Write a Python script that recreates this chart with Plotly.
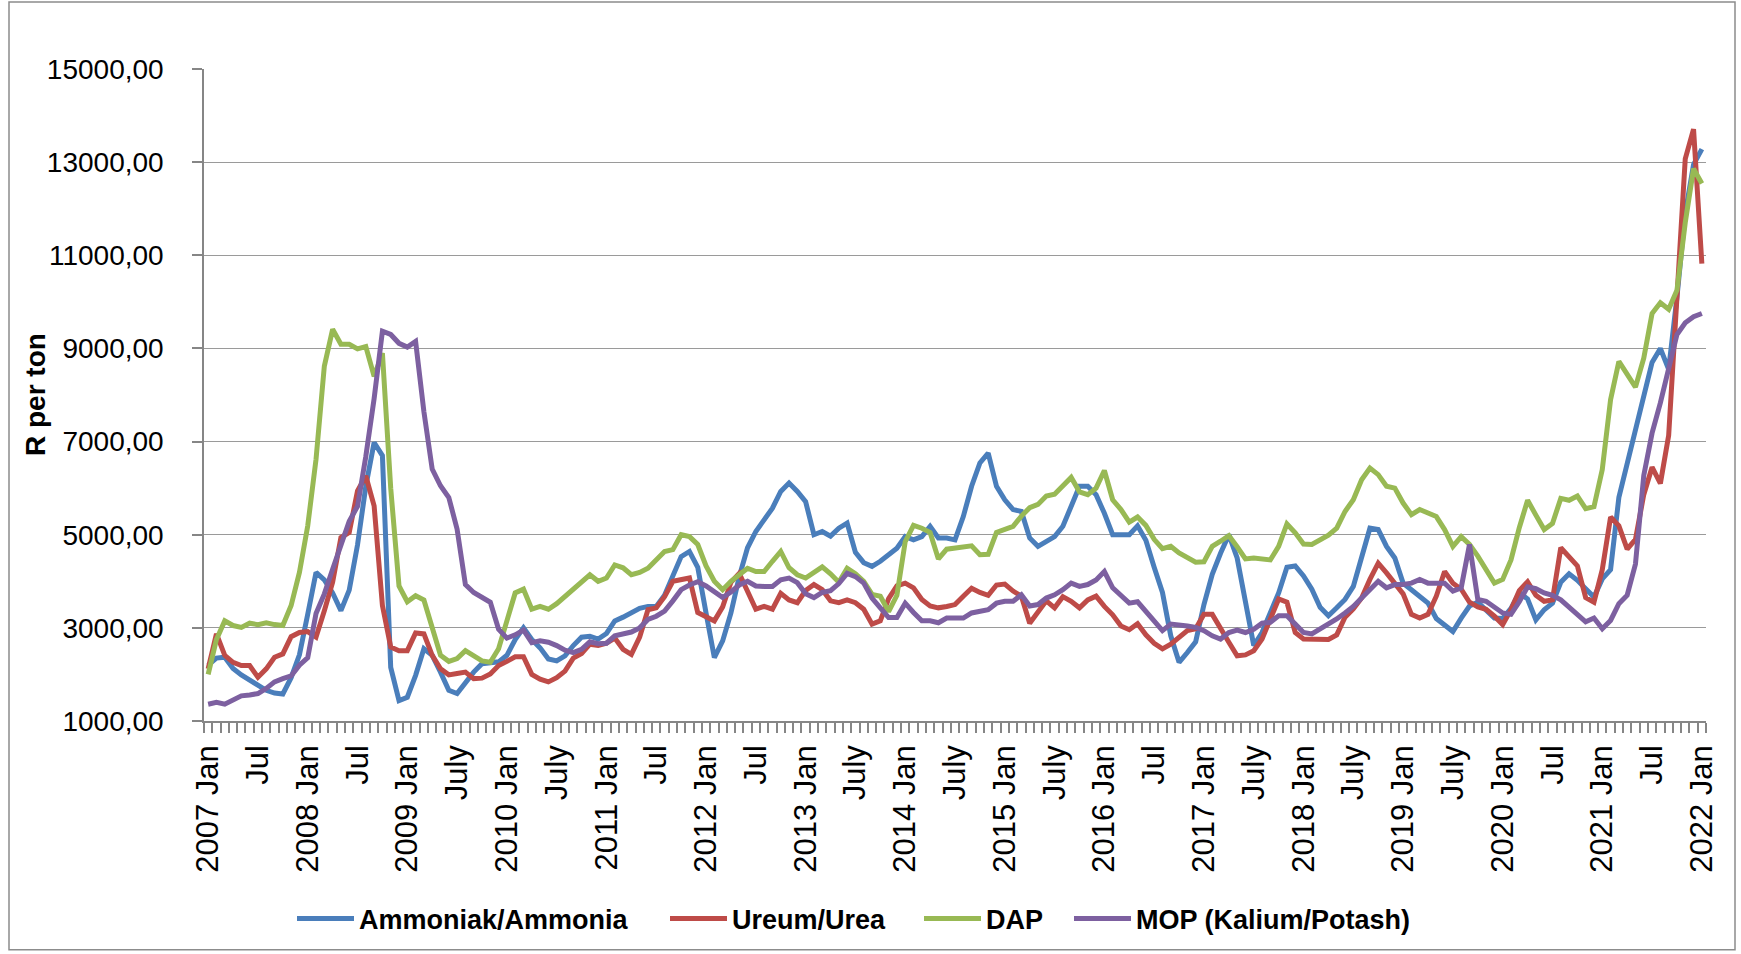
import plotly.graph_objects as go

# ---------------- data (monthly, 2007 Jan .. 2022 Jan) ----------------
ammonia = [2200, 2350, 2370, 2130, 1990, 1890, 1760, 1660, 1600, 1580, 1930, 2420, 3290, 4190, 4030, 3750,
           3370, 3810, 4780, 6040, 6980, 6700, 2150, 1440, 1510, 1980, 2550, 2410, 2050, 1660, 1590, 1840,
           2050, 2230, 2260, 2270, 2410, 2750, 3000, 2750, 2570, 2330, 2290, 2400, 2620, 2800, 2820, 2760,
           2880, 3150, 3230, 3320, 3420, 3460, 3460, 3700, 4140, 4530, 4640, 4300, 3320, 2360, 2720, 3320,
           4100, 4720, 5070, 5320, 5570, 5930, 6110, 5930, 5710, 5000, 5070, 4970, 5140, 5250, 4620, 4400,
           4320, 4430, 4570, 4710, 4960, 4890, 4960, 5180, 4930, 4930, 4890, 5390, 6040, 6540, 6750, 6040,
           5750, 5540, 5500, 4930, 4750, 4860, 4960, 5180, 5610, 6040, 6040, 5860, 5460, 5000, 5000, 5000,
           5190, 4880, 4300, 3760, 2830, 2260, 2470, 2700, 3500, 4150, 4600, 5000, 4500, 3500, 2620, 2900,
           3300, 3750, 4300, 4330, 4115, 3830, 3440, 3260, 3430, 3610, 3890, 4540, 5140, 5110, 4750, 4500,
           3960, 3820, 3680, 3530, 3200, 3050, 2920, 3210, 3470, 3550, 3390, 3210, 3200, 3420, 3760, 3620,
           3170, 3390, 3530, 3980, 4160, 4020, 3840, 3660, 4050, 4250, 5800, 6500, 7200, 8000, 8700, 9000,
           8550, 10100, 11900, 12950, 13280]

urea = [2120, 2870, 2410, 2260, 2190, 2190, 1940, 2120, 2370, 2440, 2810, 2900, 2920, 2800, 3370, 3980,
        4940, 5050, 5940, 6260, 5620, 3480, 2590, 2510, 2510, 2890, 2870, 2410, 2120, 1990, 2020, 2050,
        1910, 1920, 2010, 2190, 2280, 2380, 2380, 2000, 1900, 1840, 1930, 2070, 2350, 2450, 2650, 2620,
        2670, 2780, 2540, 2430, 2800, 3390, 3430, 3670, 4000, 4030, 4070, 3330, 3250, 3150, 3450, 3980,
        4170, 3760, 3400, 3460, 3400, 3740, 3600, 3540, 3800, 3930, 3820, 3580, 3540, 3600, 3540, 3400,
        3080, 3150, 3630, 3900, 3960, 3860, 3610, 3470, 3430, 3460, 3500, 3680, 3850, 3760, 3700, 3920,
        3940, 3790, 3680, 3100, 3360, 3580, 3430, 3670, 3570, 3430, 3600, 3680, 3460, 3280, 3040, 2960,
        3090, 2850, 2670, 2550, 2650, 2800, 2940, 2980, 3290, 3290, 3010, 2690, 2400, 2420, 2510, 2760,
        3190, 3620, 3550, 2900, 2760, 2760, 2760, 2750, 2850, 3230, 3410, 3640, 4040, 4390, 4180, 3960,
        3730, 3290, 3210, 3290, 3680, 4210, 3960, 3830, 3550, 3450, 3400, 3250, 3070, 3390, 3800, 3990,
        3700, 3570, 3600, 4720, 4520, 4330, 3650, 3550, 4250, 5380, 5190, 4690, 4900, 5860, 6450, 6100,
        7130, 10150, 13070, 13710, 10820]

dap = [2000, 2750, 3150, 3050, 3010, 3100, 3070, 3110, 3070, 3050, 3480, 4190, 5190, 6620, 8620, 9410,
       9090, 9090, 8990, 9040, 8400, 8900, 6000, 3900, 3560, 3690, 3600, 2980, 2410, 2280, 2340, 2510,
       2390, 2290, 2260, 2550, 3150, 3750, 3830, 3400, 3460, 3400, 3520, 3670, 3850, 4000, 4140, 4000,
       4070, 4350, 4290, 4140, 4190, 4280, 4450, 4640, 4680, 5000, 4960, 4790, 4330, 4000, 3820, 4000,
       4140, 4280, 4210, 4210, 4430, 4640, 4290, 4140, 4070, 4180, 4310, 4160, 3980, 4280, 4160, 4000,
       3720, 3680, 3350, 3700, 4850, 5200, 5140, 5050, 4480, 4690, 4710, 4730, 4760, 4570, 4580, 5050,
       5120, 5180, 5400, 5580, 5650, 5830, 5870, 6050, 6230, 5920, 5860, 6000, 6380, 5750, 5540, 5270,
       5380, 5200, 4900, 4700, 4750, 4610, 4500, 4410, 4420, 4750, 4860, 4980, 4740, 4480, 4500, 4470,
       4460, 4750, 5230, 5040, 4800, 4790, 4880, 4990, 5140, 5500, 5750, 6180, 6430, 6290, 6040, 6000,
       5680, 5430, 5540, 5460, 5390, 5110, 4750, 4960, 4790, 4540, 4250, 3960, 4040, 4460, 5150, 5740,
       5420, 5110, 5240, 5780, 5740, 5830, 5560, 5600, 6400, 7900, 8720, 8420, 8170, 8790, 9750, 9980,
       9840, 10250, 11700, 12860, 12540]

mop = [1360, 1400, 1360, 1460, 1540, 1560, 1590, 1700, 1840, 1910, 1970, 2200, 2360, 3310, 3730, 4260,
       4800, 5290, 5610, 6680, 7920, 9370, 9300, 9110, 9030, 9150, 7640, 6410, 6050, 5800, 5120, 3930,
       3760, 3640, 3550, 2970, 2780, 2850, 2950, 2680, 2720, 2690, 2620, 2520, 2470, 2540, 2700, 2660,
       2670, 2830, 2860, 2910, 3000, 3180, 3250, 3360, 3580, 3820, 3920, 3990, 3900, 3760, 3650, 3770,
       3920, 4000, 3900, 3890, 3890, 4030, 4070, 3970, 3730, 3650, 3760, 3800, 3950, 4170, 4100, 3960,
       3640, 3430, 3220, 3220, 3530, 3330, 3150, 3150, 3110, 3210, 3210, 3210, 3320, 3360, 3390, 3530,
       3570, 3570, 3710, 3470, 3500, 3640, 3710, 3820, 3960, 3890, 3930, 4030, 4210, 3860, 3710, 3530,
       3560, 3350, 3120, 2940, 3080, 3070, 3040, 3010, 2940, 2830, 2760, 2900, 2950, 2900, 2970, 3100,
       3120, 3260, 3260, 3080, 2900, 2870, 2970, 3080, 3190, 3320, 3460, 3640, 3820, 4000, 3860, 3930,
       3930, 3960, 4040, 3960, 3960, 3960, 3790, 3860, 4790, 3610, 3570, 3430, 3320, 3290, 3560, 3880,
       3840, 3750, 3700, 3600, 3450, 3300, 3130, 3210, 2980, 3160, 3520, 3700, 4370, 6270, 7180, 7830,
       8560, 9300, 9550, 9680, 9750]

series_names = ["Ammoniak/Ammonia", "Ureum/Urea", "DAP", "MOP (Kalium/Potash)"]
series_colors = ["#4A7EBB", "#BE4B48", "#98B954", "#7D60A0"]

tick_labels = ["2007 Jan", "Jul", "2008 Jan", "Jul", "2009 Jan", "July", "2010 Jan", "July",
               "2011 Jan", "Jul", "2012 Jan", "Jul", "2013 Jan", "July", "2014 Jan", "July",
               "2015 Jan", "July", "2016 Jan", "Jul", "2017 Jan", "July", "2018 Jan", "July",
               "2019 Jan", "July", "2020 Jan", "Jul", "2021 Jan", "Jul", "2022 Jan"]
label_step = 6
y_ticks = [1000, 3000, 5000, 7000, 9000, 11000, 13000, 15000]
y_title = "R per ton"

# ---------------- figure ----------------
n = len(ammonia)
months = list(range(n))
W, H = 1741, 954
L, R, T, B = 204, 35, 69, 232
pw, ph = W - L - R, H - T - B
FONT = "Liberation Sans, Arial, sans-serif"
GRAY = "#868686"

fig = go.Figure()
legend_px = [300, 673, 927, 1077]
for k, (name, vals, col) in enumerate(zip(series_names, [ammonia, urea, dap, mop], series_colors)):
    lg = "legend" if k == 0 else f"legend{k+1}"
    fig.add_trace(go.Scatter(x=months, y=vals, mode="lines", name=name,
                             line=dict(color=col, width=5), legend=lg,
                             hoverinfo="x+y+name"))

legend_common = dict(orientation="h", yanchor="middle", xanchor="left", y=(T + ph - 919) / ph,
                     bgcolor="rgba(0,0,0,0)", borderwidth=0, itemwidth=57,
                     font=dict(family=FONT, size=27, color="#000", weight="bold"))
layout_legends = {}
for k, px in enumerate(legend_px):
    key = "legend" if k == 0 else f"legend{k+1}"
    layout_legends[key] = dict(legend_common, x=(px - L - 8) / pw)

fig.update_layout(
    width=W, height=H, autosize=False,
    margin=dict(l=L, r=R, t=T, b=B),
    paper_bgcolor="white", plot_bgcolor="white",
    font=dict(family=FONT, color="#000"),
    showlegend=True,
    **layout_legends,
    xaxis=dict(
        range=[-0.5, n - 0.5], showgrid=False, zeroline=False,
        showline=True, linecolor=GRAY, linewidth=1.5,
        tickmode="array", tickvals=months[::label_step], ticktext=tick_labels,
        ticks="", tickangle=-90, tickfont=dict(family=FONT, size=31, color="#000"),
        ticklabelstandoff=10,
        minor=dict(tickmode="array", tickvals=[m - 0.5 for m in months] + [n - 0.5],
                   ticks="outside", ticklen=10, tickcolor=GRAY, tickwidth=1.5, showgrid=False),
    ),
    yaxis=dict(
        range=[y_ticks[0], y_ticks[-1]], zeroline=False,
        showline=True, linecolor=GRAY, linewidth=1.5,
        showgrid=True, gridcolor="#9a9a9a", gridwidth=1,
        tickmode="array", tickvals=y_ticks,
        ticktext=[f"{v:.2f}".replace(".", ",") for v in y_ticks],
        ticks="outside", ticklen=10, tickcolor=GRAY, tickwidth=1.5,
        tickfont=dict(family=FONT, size=28, color="#000"),
        ticklabelstandoff=23,
        automargin=False,
    ),
    annotations=[dict(text=y_title, xref="paper", yref="paper", x=(35 - L) / pw, y=0.5,
                      xanchor="center", yanchor="middle", textangle=-90, showarrow=False,
                      font=dict(family=FONT, size=28, color="#000", weight="bold"))],
    shapes=[dict(type="rect", xref="paper", yref="paper",
                 x0=(9 - L) / pw, x1=(1735 - L) / pw,
                 y0=(T + ph - 951) / ph, y1=(T + ph - 2) / ph,
                 line=dict(color="#8c8c8c", width=1.5), fillcolor="rgba(0,0,0,0)", layer="below")],
)
fig.update_xaxes(automargin=False)

fig.write_html("out.html", config={"displayModeBar": False},
               post_script="document.body.style.margin='0px';document.body.style.overflow='hidden';")
